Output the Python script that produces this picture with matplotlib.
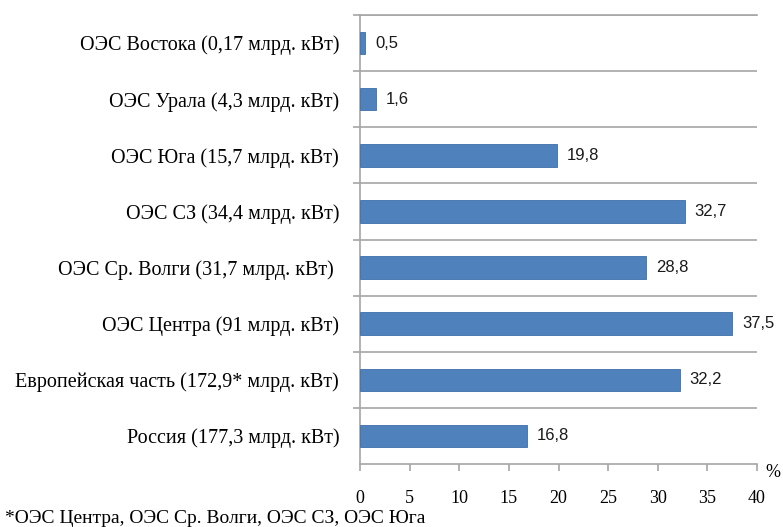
import matplotlib.pyplot as plt
import numpy as np

categories = [
    'Россия (177,3 млрд. кВт)',
    'Европейская часть (172,9* млрд. кВт)',
    'ОЭС Центра (91 млрд. кВт)',
    'ОЭС Ср. Волги (31,7 млрд. кВт) ',
    'ОЭС СЗ (34,4 млрд. кВт)',
    'ОЭС Юга (15,7 млрд. кВт)',
    'ОЭС Урала (4,3 млрд. кВт)',
    'ОЭС Востока (0,17 млрд. кВт)',
]
values = [16.8, 32.2, 37.5, 28.8, 32.7, 19.8, 1.6, 0.5]
x_ticks = [0, 5, 10, 15, 20, 25, 30, 35, 40]
footnote = '*ОЭС Центра, ОЭС Ср. Волги, ОЭС СЗ, ОЭС Юга'

SERIF = 'Liberation Serif'
GRID = '#a6a6a6'

fig = plt.figure(figsize=(7.83, 5.27), dpi=100)
ax = fig.add_axes([0.4598, 0.1195, 0.507, 0.852])

y = np.arange(len(categories))
ax.barh(y, values, height=0.4, color='#4f81bd', edgecolor='#3f6fa8', linewidth=0.6, zorder=3)

for yi, v in zip(y, values):
    ax.text(v + 1.0, yi, ('%.1f' % v).replace('.', ','), va='center', ha='left',
            fontsize=12, family='Liberation Sans', color='#1a1a1a')

ax.set_xlim(0, 40)
ax.set_ylim(-0.5, len(categories) - 0.5)

# category names on major ticks, separators on minor ticks
ax.set_yticks(y)
ax.set_yticklabels(categories, family=SERIF, fontsize=14.5)
ax.set_yticks(np.arange(len(categories)) + 0.5, minor=True)
ax.tick_params(axis='y', which='major', length=0, pad=15)
ax.tick_params(axis='y', which='minor', length=5, color=GRID, width=1.2)
ax.grid(axis='y', which='minor', color=GRID, linewidth=1.2, zorder=0)

ax.set_xticks(x_ticks)
ax.set_xticklabels([str(t) for t in x_ticks], family=SERIF, fontsize=13)
ax.tick_params(axis='x', direction='out', length=5, color=GRID, width=1.2, pad=14)

ax.spines['right'].set_visible(False)
for side in ('top', 'bottom', 'left'):
    ax.spines[side].set_color(GRID)
    ax.spines[side].set_linewidth(1.2)

fig.text(0.978, 0.103, '%', family=SERIF, fontsize=13, ha='left', va='center')
fig.text(0.006, 0.017, footnote, family=SERIF, fontsize=14, ha='left', va='center')

fig.savefig('out.png', dpi=100)
